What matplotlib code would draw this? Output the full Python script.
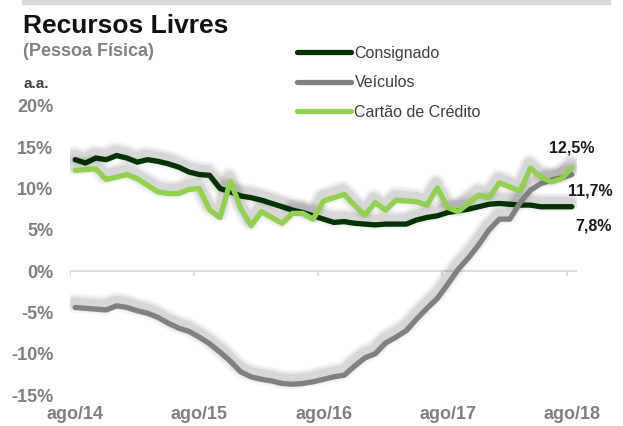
import matplotlib
matplotlib.use("Agg")
import matplotlib.pyplot as plt
import matplotlib.patheffects as pe
from matplotlib.lines import Line2D
from matplotlib.patches import Rectangle

# ---------------- data (monthly, ago/14 .. ago/18) ----------------
consignado = [13.5, 13.1, 13.7, 13.5, 14.0, 13.7, 13.2, 13.5, 13.3, 13.0,
              12.6, 12.0, 11.7, 11.6, 10.0, 9.6, 9.1, 8.9, 8.6, 8.2,
              7.8, 7.4, 7.1, 6.7, 6.3, 5.9, 6.0, 5.8, 5.7, 5.6,
              5.7, 5.7, 5.7, 6.2, 6.5, 6.7, 7.1, 7.3, 7.5, 7.8,
              8.1, 8.2, 8.1, 8.0, 8.0, 7.8, 7.8, 7.8, 7.8]
veiculos = [-4.4, -4.5, -4.6, -4.7, -4.2, -4.4, -4.8, -5.1, -5.6, -6.3,
            -6.9, -7.3, -8.0, -8.8, -9.8, -10.9, -12.2, -12.8, -13.1, -13.3,
            -13.6, -13.7, -13.6, -13.4, -13.1, -12.8, -12.6, -11.5, -10.5, -10.0,
            -8.7, -8.0, -7.2, -5.8, -4.5, -3.3, -1.6, 0.2, 1.6, 3.2,
            5.0, 6.3, 6.3, 8.3, 9.8, 10.6, 11.0, 11.3, 11.7]
cartao = [12.2, 12.3, 12.4, 11.1, 11.4, 11.7, 11.2, 10.4, 9.6, 9.4,
          9.4, 9.9, 10.0, 7.4, 6.5, 10.9, 7.6, 5.5, 7.2, 6.5,
          5.8, 7.0, 7.0, 6.3, 8.5, 8.9, 9.3, 8.0, 6.8, 8.3,
          7.4, 8.6, 8.5, 8.4, 8.0, 10.1, 7.7, 7.2, 8.2, 9.2,
          8.9, 10.7, 10.2, 9.7, 12.5, 11.4, 10.8, 11.2, 12.5]
series_names = ["Consignado", "Veículos", "Cartão de Crédito"]
series_values = [consignado, veiculos, cartao]
series_colors = ["#003300", "#808080", "#92D050"]
xtick_labels = ["ago/14", "ago/15", "ago/16", "ago/17", "ago/18"]
yticks = [-15, -10, -5, 0, 5, 10, 15, 20]

n = len(consignado)
xpos = [i + 0.5 for i in range(n)]

W, H = 623, 426
fig = plt.figure(figsize=(W / 100, H / 100), dpi=100)
fig.patch.set_facecolor("white")

def fx(px):
    return px / W

def fy(py):
    return 1 - py / H

ax = fig.add_axes([fx(70), fy(395), fx(577) - fx(70), fy(106) - fy(395)])
ax.set_xlim(0, n)
ax.set_ylim(-15, 20)

for s in ax.spines.values():
    s.set_visible(False)

# zero line with category-boundary ticks
ax.axhline(0, color="#d9d9d9", lw=1.3, zorder=1)
tick_bounds = [12 * k for k in range(len(xtick_labels))]
ax.vlines(tick_bounds, -0.6, 0, color="#d9d9d9", lw=1.3, zorder=1)

lw = 3.8
for vals, col in zip(series_values, series_colors):
    effects = [pe.SimpleLineShadow(offset=(-0.8, 3.2), shadow_color="#000000",
                                   alpha=a, linewidth=w)
               for w, a in ((14, 0.04), (11, 0.05), (8, 0.07))]
    effects.append(pe.Normal())
    ax.plot(xpos, vals, color=col, lw=lw, solid_capstyle="round",
            solid_joinstyle="round", path_effects=effects, zorder=3)

font = "Liberation Sans"
ax.set_yticks(yticks)
ax.set_yticklabels([f"{v}%" for v in yticks], fontfamily=font,
                   fontweight="bold", fontsize=13, color="#808080")
ax.set_xticks([12 * k + 0.5 for k in range(len(xtick_labels))])
ax.set_xticklabels(xtick_labels, fontfamily=font, fontweight="bold",
                   fontsize=13, color="#808080")
ax.tick_params(axis="y", length=0, pad=12)
ax.tick_params(axis="x", length=0, pad=8)

# end labels
offsets = [(15.5, -14), (13, -12), (0, 14)]
for vals, off in zip(series_values, offsets):
    txt = f"{vals[-1]:.1f}".replace(".", ",") + "%"
    ax.annotate(txt, xy=(xpos[-1], vals[-1]), xytext=off,
                textcoords="offset points", ha="center", va="center",
                fontfamily=font, fontweight="bold", fontsize=11.5,
                color="#1a1a1a", annotation_clip=False)

# legend
handles = [Line2D([0], [0], color=c, lw=lw, solid_capstyle="round")
           for c in series_colors]
leg = fig.legend(handles, series_names, loc="upper left",
                 bbox_to_anchor=(fx(297), fy(46)), frameon=False,
                 borderpad=0, borderaxespad=0, handlelength=3.4,
                 handletextpad=0.2, labelspacing=0.9,
                 prop={"family": font, "size": 11.5})
for t in leg.get_texts():
    t.set_color("#404040")

# titles
fig.patches.append(Rectangle((fx(22), fy(4)), fx(610) - fx(22), fy(0) - fy(4),
                             transform=fig.transFigure, color="#d9d9d9", zorder=0))
fig.text(fx(23), fy(33), "Recursos Livres", fontfamily=font, fontweight="bold",
         fontsize=19, color="#111111", va="baseline")
fig.text(fx(23), fy(56), "(Pessoa Física)", fontfamily=font, fontweight="bold",
         fontsize=13, color="#808080", va="baseline")
fig.text(fx(23), fy(88), "a.a.", fontfamily=font, fontweight="bold",
         fontsize=11, color="#404040", va="baseline")

fig.savefig("out.png", dpi=100, facecolor="white")
